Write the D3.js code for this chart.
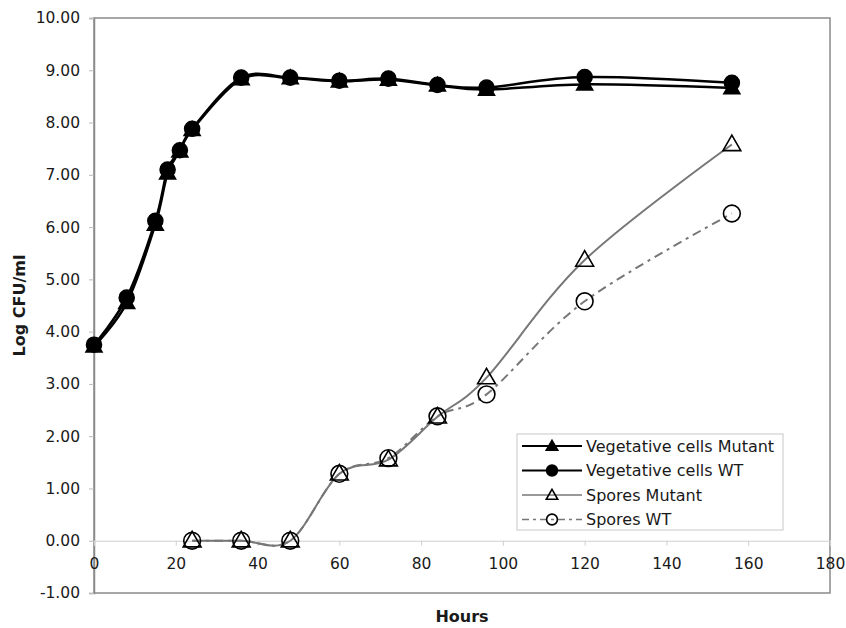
<!DOCTYPE html>
<html>
<head>
<meta charset="utf-8">
<script src="https://cdnjs.cloudflare.com/ajax/libs/d3/7.8.5/d3.min.js"></script>
<style>
  body { margin: 0; background: #fff; }
  text { font-family: "DejaVu Sans", Verdana, sans-serif; fill: #1a1a1a; }
</style>
</head>
<body>
<script>
// sampling times (hours)
const vegHours = [0, 8, 15, 18, 21, 24, 36, 48, 60, 72, 84, 96, 120, 156];
const vegMutant = [3.72, 4.55, 6.05, 7.03, 7.45, 7.86, 8.83, 8.85, 8.79, 8.82, 8.71, 8.63, 8.73, 8.66];
const vegWT     = [3.75, 4.65, 6.12, 7.10, 7.47, 7.88, 8.86, 8.86, 8.80, 8.84, 8.72, 8.67, 8.87, 8.76];

const sporeHours = [24, 36, 48, 60, 72, 84, 96, 120, 156];
const sporeMutant = [0, 0, 0, 1.28, 1.55, 2.37, 3.12, 5.37, 7.58];
const sporeWT     = [0, 0, 0, 1.28, 1.58, 2.38, 2.80, 4.58, 6.26];

const xTicks = [0, 20, 40, 60, 80, 100, 120, 140, 160, 180];
const yTicks = [-1, 0, 1, 2, 3, 4, 5, 6, 7, 8, 9, 10];

const W = 846, H = 628;
const margin = {top: 18, right: 16, bottom: 35, left: 94};

const svg = d3.select("body").append("svg")
    .attr("width", W)
    .attr("height", H);

const x = d3.scaleLinear().domain([0, 180]).range([margin.left, W - margin.right]);
const y = d3.scaleLinear().domain([-1, 10]).range([H - margin.bottom, margin.top]);

// plot frame
svg.append("rect")
    .attr("x", x(0)).attr("y", y(10))
    .attr("width", x(180) - x(0)).attr("height", y(-1) - y(10))
    .attr("fill", "none").attr("stroke", "#8a8a8a").attr("stroke-width", 1.5);

// y axis
const yAxis = svg.append("g")
    .attr("transform", "translate(" + x(0) + ",0)")
    .call(d3.axisLeft(y).tickValues(yTicks).tickFormat(d => d.toFixed(2)).tickSize(5).tickPadding(9));
yAxis.select(".domain").attr("stroke", "#8a8a8a").attr("stroke-width", 1.5);
yAxis.selectAll(".tick line").attr("stroke", "#bbb");
yAxis.selectAll("text").style("font-size", "15.5px").attr("fill", "#1a1a1a");

// x axis sits on the zero line
const xAxis = svg.append("g")
    .attr("transform", "translate(0," + y(0) + ")")
    .call(d3.axisBottom(x).tickValues(xTicks).tickSize(5).tickPadding(12));
xAxis.select(".domain").attr("stroke", "#d0d0d0").attr("stroke-width", 1.2);
xAxis.selectAll(".tick line").attr("stroke", "#d0d0d0");
xAxis.selectAll("text").style("font-size", "15.5px").attr("fill", "#1a1a1a");

// axis titles
svg.append("text")
    .attr("x", (x(0) + x(180)) / 2).attr("y", 622)
    .attr("text-anchor", "middle")
    .style("font-size", "16px").style("font-weight", "bold")
    .text("Hours");
svg.append("text")
    .attr("transform", "translate(25," + ((y(10) + y(-1)) / 2) + ") rotate(-90)")
    .attr("text-anchor", "middle")
    .style("font-size", "16px").style("font-weight", "bold")
    .text("Log CFU/ml");

const line = d3.line()
    .x(d => x(d[0]))
    .y(d => y(d[1]))
    .curve(d3.curveCatmullRom.alpha(0));

const series = [
  {name: "Vegetative cells Mutant", hours: vegHours, vals: vegMutant, color: "#000", width: 2.5, dash: null, marker: "tri", fill: "#000", size: 1},
  {name: "Vegetative cells WT", hours: vegHours, vals: vegWT, color: "#000", width: 2.5, dash: null, marker: "circ", fill: "#000", size: 1},
  {name: "Spores Mutant", hours: sporeHours, vals: sporeMutant, color: "#777", width: 2, dash: null, marker: "tri", fill: "none", size: 1.12},
  {name: "Spores WT", hours: sporeHours, vals: sporeWT, color: "#777", width: 2, dash: "9,5,3,5", marker: "circ", fill: "none", size: 1.12}
];

function drawMarker(g, s, cx, cy, scale) {
  if (s.marker === "tri") {
    g.append("path")
        .attr("d", d3.symbol().type(d3.symbolTriangle).size(110 * scale * scale)())
        .attr("transform", "translate(" + cx + "," + (cy + 1) + ")")
        .attr("fill", s.fill).attr("stroke", "#000").attr("stroke-width", 1.6);
  } else {
    g.append("circle")
        .attr("cx", cx).attr("cy", cy).attr("r", 7.5 * scale)
        .attr("fill", s.fill).attr("stroke", "#000").attr("stroke-width", 1.6);
  }
}

series.forEach(s => {
  const pts = s.hours.map((h, i) => [h, s.vals[i]]);
  svg.append("path")
      .datum(pts)
      .attr("d", line)
      .attr("fill", "none")
      .attr("stroke", s.color)
      .attr("stroke-width", s.width)
      .attr("stroke-dasharray", s.dash);
});

series.forEach(s => {
  const g = svg.append("g");
  s.hours.forEach((h, i) => drawMarker(g, s, x(h), y(s.vals[i]), s.size));
});

// legend
const lg = svg.append("g").attr("transform", "translate(517,434)");
lg.append("rect")
    .attr("width", 266).attr("height", 96)
    .attr("fill", "#fff").attr("stroke", "#d0d0d0").attr("stroke-width", 1.2);
series.forEach((s, i) => {
  const yy = 12 + i * 24.5;
  lg.append("line")
      .attr("x1", 5).attr("x2", 65).attr("y1", yy).attr("y2", yy)
      .attr("stroke", s.color).attr("stroke-width", s.width - 0.5)
      .attr("stroke-dasharray", s.dash ? "7,4,3,4" : null);
  drawMarker(lg, s, 35, yy, 0.72);
  lg.append("text")
      .attr("x", 69).attr("y", yy).attr("dy", "0.35em")
      .style("font-size", "16px")
      .text(s.name);
});
</script>
</body>
</html>
